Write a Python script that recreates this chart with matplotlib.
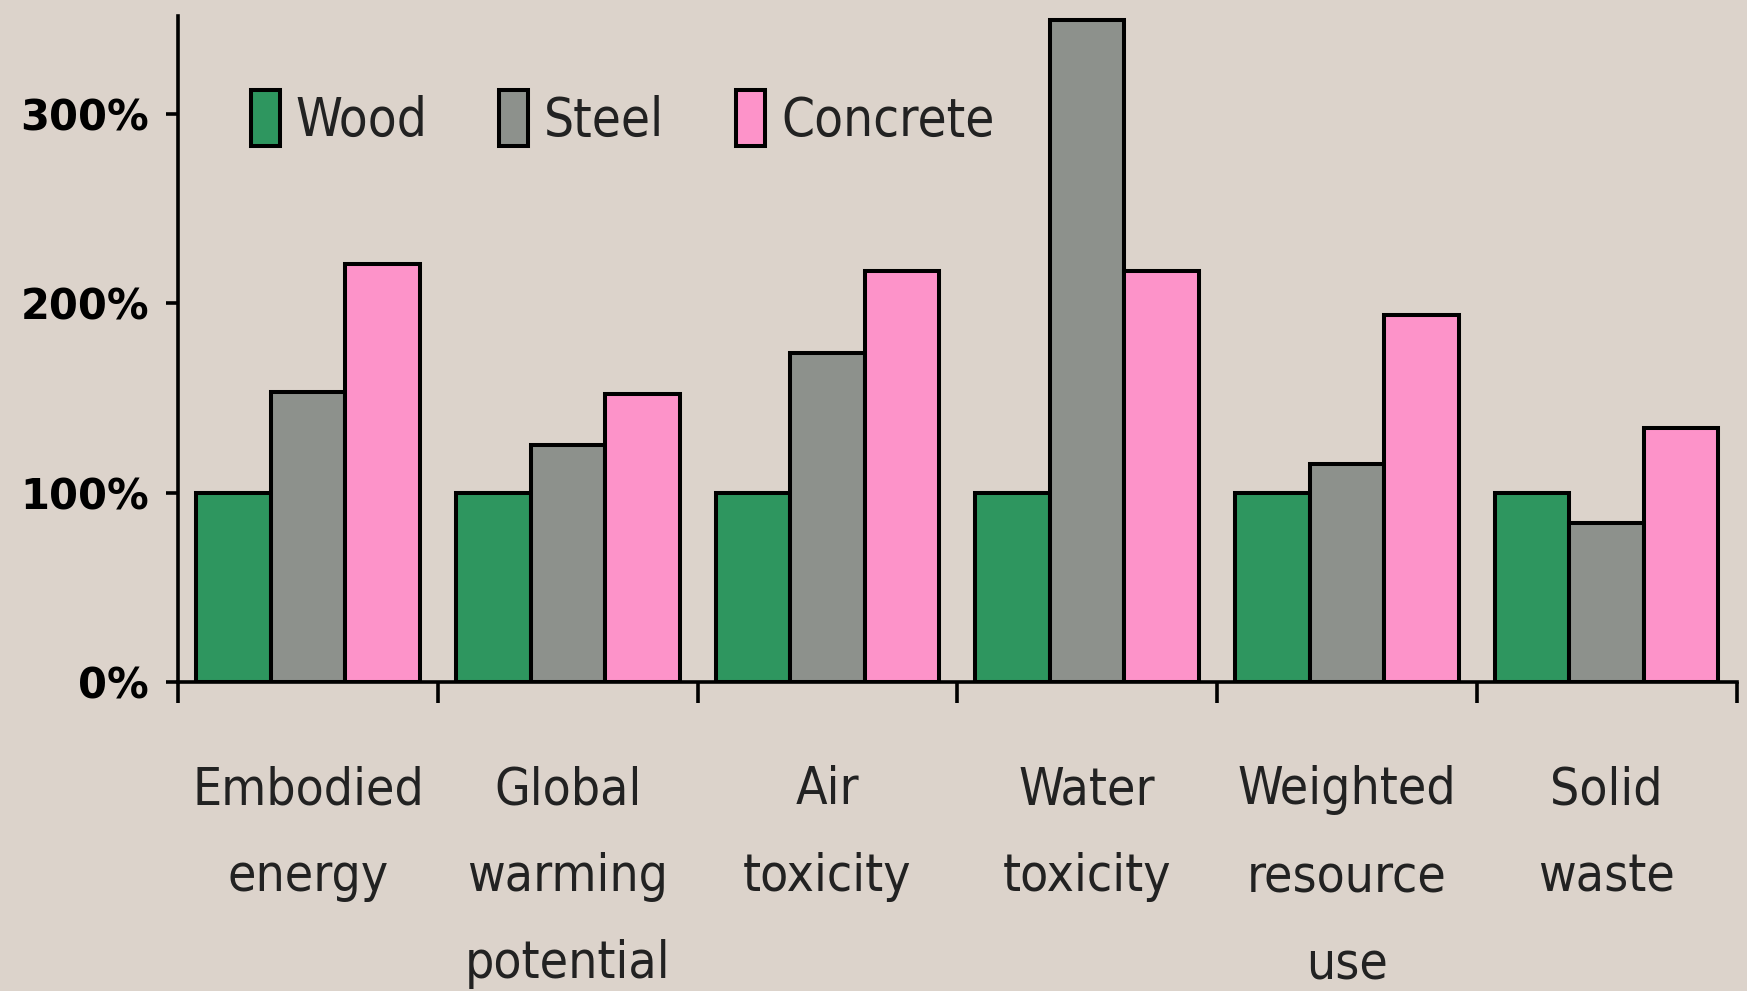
import numpy as np
import matplotlib
matplotlib.use('Agg')
import matplotlib.pyplot as plt
from matplotlib.ticker import FuncFormatter

categories = ['Embodied\nenergy', 'Global\nwarming\npotential', 'Air\ntoxicity',
              'Water\ntoxicity', 'Weighted\nresource\nuse', 'Solid\nwaste']
series = ['Wood', 'Steel', 'Concrete']
wood = [100, 100, 100, 100, 100, 100]
steel = [153, 125, 174, 350, 115, 84]
concrete = [221, 152, 217, 217, 194, 134]
colors = ['#2E965F', '#8D918C', '#FD93C9']
bg = '#DCD3CB'

fig = plt.figure(figsize=(17.47, 9.91), dpi=100, facecolor=bg)
ax = fig.add_axes([0.102, 0.312, 0.892, 0.672])
ax.set_facecolor(bg)

x = np.arange(len(categories))
w = 0.287
for i, (vals, name) in enumerate(zip([wood, steel, concrete], series)):
    ax.bar(x + (i - 1) * w, vals, w, color=colors[i], edgecolor='black',
           linewidth=2.9, label=name, zorder=3)

ax.set_xlim(-0.5, len(categories) - 0.5)
ax.set_ylim(0, 352)
ax.set_yticks([0, 100, 200, 300])
ax.yaxis.set_major_formatter(FuncFormatter(lambda v, p: '%d%%' % v))

for s in ['top', 'right']:
    ax.spines[s].set_visible(False)
for s in ['left', 'bottom']:
    ax.spines[s].set_linewidth(2.6)

ax.tick_params(axis='y', length=9, width=2.6, labelsize=30, pad=12)
for t in ax.get_yticklabels():
    t.set_fontweight('bold')

# ticks on category boundaries, labels in between
ax.set_xticks(np.arange(len(categories) + 1) - 0.5)
ax.set_xticklabels([])
ax.tick_params(axis='x', which='major', length=15, width=2.6)
ax.set_xticks(x, minor=True)
ax.set_xticklabels(categories, minor=True, fontsize=37, linespacing=1.95,
                   fontstretch='condensed', color='#222222', va='top')
ax.tick_params(axis='x', which='minor', length=0, pad=60)

leg = ax.legend(loc='upper left', ncol=3, frameon=False, fontsize=38,
                bbox_to_anchor=(0.033, 0.92), handlelength=0.55, handleheight=1.25,
                handletextpad=0.3, columnspacing=1.36, borderaxespad=0)
for t in leg.get_texts():
    t.set_fontstretch('condensed')
    t.set_color('#222222')

fig.savefig('out.png', dpi=100, facecolor=bg)
